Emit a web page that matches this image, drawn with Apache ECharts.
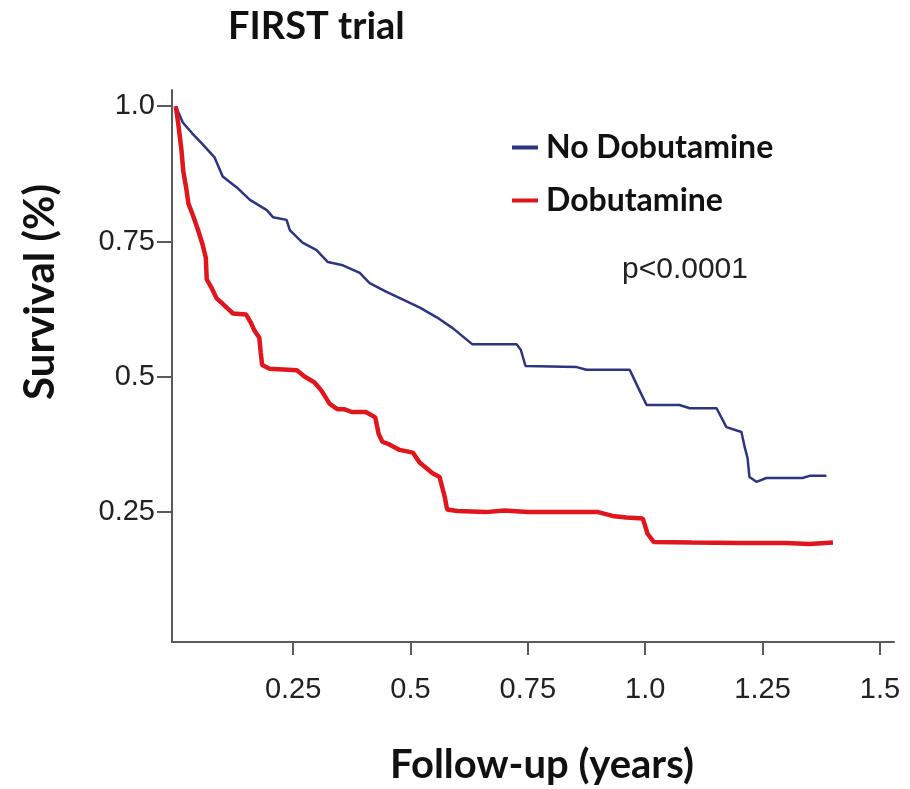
<!DOCTYPE html>
<html>
<head>
<meta charset="utf-8">
<script src="https://cdn.jsdelivr.net/npm/echarts@6/dist/echarts.min.js"></script>
<style>
  html, body { margin: 0; padding: 0; background: #fff; }
  #chart { width: 910px; height: 789px; }
</style>
</head>
<body>
<div id="chart"></div>
<script>
// Kaplan-Meier survival, follow-up in years
const seriesNames = ['No Dobutamine', 'Dobutamine'];

const noDobTime = [0, 0.015, 0.035, 0.057, 0.083, 0.10, 0.13, 0.158, 0.194, 0.207, 0.236, 0.243, 0.27, 0.30, 0.324, 0.356, 0.392, 0.413, 0.449, 0.483, 0.52, 0.556, 0.59, 0.632, 0.726, 0.735, 0.745, 0.854, 0.875, 0.967, 0.985, 1.003, 1.073, 1.095, 1.152, 1.173, 1.205, 1.212, 1.218, 1.222, 1.237, 1.258, 1.335, 1.35, 1.386];
const noDobSurv = [1.0, 0.97, 0.95, 0.93, 0.905, 0.87, 0.85, 0.827, 0.808, 0.795, 0.79, 0.771, 0.748, 0.734, 0.712, 0.706, 0.692, 0.673, 0.657, 0.643, 0.628, 0.61, 0.59, 0.56, 0.56, 0.55, 0.52, 0.518, 0.513, 0.513, 0.48, 0.448, 0.448, 0.442, 0.442, 0.407, 0.398, 0.37, 0.35, 0.315, 0.306, 0.313, 0.313, 0.317, 0.317];

const dobTime = [0, 0.005, 0.012, 0.016, 0.022, 0.027, 0.036, 0.046, 0.057, 0.064, 0.066, 0.076, 0.087, 0.100, 0.112, 0.122, 0.150, 0.160, 0.168, 0.178, 0.181, 0.184, 0.200, 0.258, 0.275, 0.295, 0.310, 0.328, 0.345, 0.36, 0.375, 0.405, 0.425, 0.432, 0.44, 0.455, 0.477, 0.505, 0.52, 0.547, 0.562, 0.573, 0.578, 0.60, 0.66, 0.70, 0.75, 0.90, 0.93, 0.96, 0.995, 1.005, 1.018, 1.10, 1.20, 1.30, 1.35, 1.40];
const dobSurv = [1.0, 0.97, 0.92, 0.88, 0.85, 0.82, 0.80, 0.775, 0.745, 0.72, 0.68, 0.665, 0.645, 0.635, 0.625, 0.617, 0.615, 0.60, 0.585, 0.572, 0.545, 0.522, 0.515, 0.512, 0.50, 0.49, 0.475, 0.45, 0.44, 0.44, 0.435, 0.435, 0.425, 0.395, 0.38, 0.375, 0.365, 0.36, 0.341, 0.322, 0.315, 0.278, 0.255, 0.252, 0.25, 0.253, 0.25, 0.25, 0.243, 0.24, 0.238, 0.21, 0.195, 0.194, 0.193, 0.193, 0.191, 0.194];

const xTicks = [0.25, 0.5, 0.75, 1.0, 1.25, 1.5];
const xTickLabels = ['0.25', '0.5', '0.75', '1.0', '1.25', '1.5'];
const yTicks = [0.25, 0.5, 0.75, 1.0];
const yTickLabels = ['0.25', '0.5', '0.75', '1.0'];

const pValueText = 'p<0.0001';
const titleText = 'FIRST trial';
const xName = 'Follow-up (years)';
const yName = 'Survival (%)';

const zip = (xs, ys) => xs.map((x, i) => [x, ys[i]]);
const labelFor = (ticks, labels) => v => {
  const i = ticks.findIndex(t => Math.abs(t - v) < 1e-6);
  return i >= 0 ? labels[i] : '';
};

const axisColor = '#5a5a5a';
const labelFont = "'Liberation Sans', Arial, sans-serif";
const boldFont = "Lato, 'Open Sans', sans-serif";

const chart = echarts.init(document.getElementById('chart'), null, { renderer: 'canvas' });
chart.setOption({
  backgroundColor: '#ffffff',
  animation: false,
  grid: { left: 172, right: 16, top: 90, bottom: 147, containLabel: false },
  xAxis: {
    type: 'value',
    min: -0.008,
    max: 1.53,
    splitLine: { show: false },
    axisLine: { show: true, onZero: false, lineStyle: { color: axisColor, width: 2 } },
    axisTick: { show: true, customValues: xTicks, length: 13, inside: false, lineStyle: { color: axisColor, width: 2 } },
    axisLabel: { customValues: xTicks, formatter: labelFor(xTicks, xTickLabels), margin: 33, color: '#222', fontSize: 29, fontFamily: labelFont }
  },
  yAxis: {
    type: 'value',
    min: 0.01,
    max: 1.03,
    splitLine: { show: false },
    axisLine: { show: true, onZero: false, lineStyle: { color: axisColor, width: 2 } },
    axisTick: { show: true, customValues: yTicks, length: 15, inside: false, lineStyle: { color: axisColor, width: 2 } },
    axisLabel: { customValues: yTicks, formatter: labelFor(yTicks, yTickLabels), margin: 17, color: '#222', fontSize: 29, fontFamily: labelFont }
  },
  legend: {
    orient: 'vertical',
    left: 507,
    top: 125,
    icon: 'rect',
    itemWidth: 26,
    itemHeight: 4,
    itemGap: 18,
    textStyle: { fontSize: 32, fontWeight: 'bold', color: '#111', fontFamily: boldFont, lineHeight: 35, padding: [0, 0, 0, 3] },
    data: seriesNames
  },
  series: [
    {
      name: seriesNames[0],
      type: 'line',
      data: zip(noDobTime, noDobSurv),
      showSymbol: false,
      lineStyle: { color: '#2b3580', width: 2.5 },
      itemStyle: { color: '#2b3580' }
    },
    {
      name: seriesNames[1],
      type: 'line',
      data: zip(dobTime, dobSurv),
      showSymbol: false,
      lineStyle: { color: '#e0161c', width: 4.5 },
      itemStyle: { color: '#e0161c' }
    }
  ],
  graphic: [
    { type: 'text', left: 228, top: 8, style: { text: titleText, fontSize: 38, fontWeight: 'bold', fontFamily: boldFont, fill: '#111' } },
    { type: 'text', left: 622, top: 255, style: { text: pValueText, fontSize: 30, fontFamily: labelFont, fill: '#222' } },
    { type: 'text', x: 542, y: 765, style: { text: xName, fontSize: 40, fontWeight: 'bold', fontFamily: boldFont, fill: '#111', align: 'center', verticalAlign: 'middle' } },
    { type: 'text', x: 40, y: 292, rotation: Math.PI / 2, style: { text: yName, fontSize: 42, fontWeight: 'bold', fontFamily: boldFont, fill: '#111', align: 'center', verticalAlign: 'middle' } }
  ]
});
</script>
</body>
</html>
